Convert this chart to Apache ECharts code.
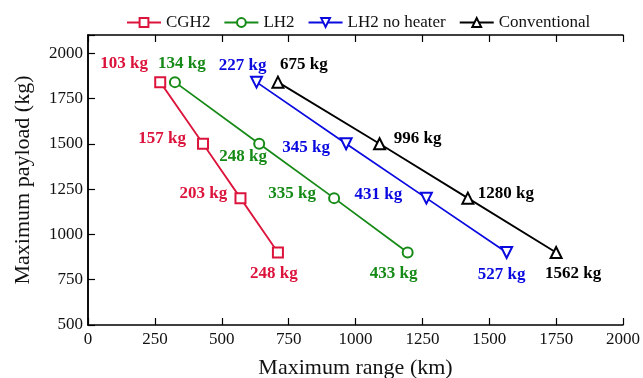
<!DOCTYPE html>
<html>
<head>
<meta charset="utf-8">
<script src="https://cdn.jsdelivr.net/npm/echarts@6/dist/echarts.min.js"></script>
<style>
  html, body { margin: 0; padding: 0; background: #fff; }
  #chart { width: 643px; height: 378px; }
</style>
</head>
<body>
<div id="chart"></div>
<script>
// Range (km) and payload (kg) for each configuration
const cgh2Range = [270, 430, 570, 710];
const cgh2Payload = [1840, 1500, 1200, 900];
const cgh2Fuel = [103, 157, 203, 248];

const lh2Range = [325, 640, 920, 1195];
const lh2Payload = [1840, 1500, 1200, 900];
const lh2Fuel = [134, 248, 335, 433];

const lh2NoHeaterRange = [630, 965, 1265, 1565];
const lh2NoHeaterPayload = [1840, 1500, 1200, 900];
const lh2NoHeaterFuel = [227, 345, 431, 527];

const conventionalRange = [710, 1090, 1420, 1750];
const conventionalPayload = [1840, 1500, 1200, 900];
const conventionalFuel = [675, 996, 1280, 1562];

const xTicks = [0, 250, 500, 750, 1000, 1250, 1500, 1750, 2000];
const yTicks = [500, 750, 1000, 1250, 1500, 1750, 2000];

// Label placement offsets (px) around each marker
const cgh2LabelOffsets = [[-36, -19], [-41, -5], [-37, -5], [-4, 21]];
const lh2LabelOffsets = [[7, -19], [-16, 13], [-42, -5], [-14, 21]];
const lh2NoHeaterLabelOffsets = [[-14, -17], [-40, 4], [-48, -4], [-5, 22]];
const conventionalLabelOffsets = [[26, -18], [38, -5], [38, -5], [17, 21]];

const SERIF = '"Liberation Serif", "Times New Roman", serif';

function buildSeries(name, color, symbol, symbolSize, rotate, xs, ys, fuel, offsets) {
  return {
    name: name,
    type: 'line',
    color: color,
    symbol: symbol,
    symbolSize: symbolSize,
    symbolRotate: rotate,
    showAllSymbol: true,
    lineStyle: { color: color, width: 1.8 },
    itemStyle: { color: '#fff', borderColor: color, borderWidth: 2 },
    emphasis: { disabled: true },
    z: 3,
    data: xs.map((x, i) => ({
      value: [x, ys[i]],
      label: {
        show: true,
        position: 'inside',
        offset: offsets[i],
        formatter: fuel[i] + ' kg',
        color: color,
        fontFamily: SERIF,
        fontWeight: 'bold',
        fontSize: 17,
        align: 'center',
        verticalAlign: 'middle'
      }
    }))
  };
}

const chart = echarts.init(document.getElementById('chart'), null, { renderer: 'canvas' });

const axisLine = { show: true, lineStyle: { color: '#000', width: 1.5 } };
const tickStyle = { show: true, inside: true, length: 7, lineStyle: { color: '#000', width: 1.2 } };
const labelStyle = { color: '#111', fontFamily: SERIF, fontSize: 17 };

chart.setOption({
  animation: false,
  backgroundColor: '#fff',
  legend: {
    top: 9,
    left: 121,
    itemWidth: 34,
    itemHeight: 11,
    itemGap: 13,
    textStyle: { color: '#111', fontFamily: SERIF, fontSize: 17 },
    data: ['CGH2', 'LH2', 'LH2 no heater', 'Conventional']
  },
  grid: { left: 88, right: 20, top: 35, bottom: 53, outerBoundsMode: 'none', containLabel: false },
  xAxis: [{
    type: 'value',
    min: 0, max: 2000, interval: 250,
    name: 'Maximum range (km)',
    nameLocation: 'middle',
    nameGap: 32,
    nameTextStyle: { color: '#111', fontFamily: SERIF, fontSize: 22 },
    axisLine: axisLine,
    axisTick: tickStyle,
    axisLabel: Object.assign({
      margin: 6,
      formatter: v => (xTicks.indexOf(v) >= 0 ? String(v) : '')
    }, labelStyle),
    splitLine: { show: false }
  }, {
    type: 'value',
    position: 'top',
    min: 0, max: 2000, interval: 250,
    axisLine: axisLine,
    axisTick: tickStyle,
    axisLabel: { show: false },
    splitLine: { show: false }
  }],
  yAxis: [{
    type: 'value',
    min: 500, max: 2100, interval: 250,
    name: 'Maximum payload (kg)',
    nameLocation: 'middle',
    nameGap: 54,
    nameTextStyle: { color: '#111', fontFamily: SERIF, fontSize: 22 },
    axisLine: axisLine,
    axisTick: tickStyle,
    axisLabel: Object.assign({
      margin: 5,
      formatter: v => (yTicks.indexOf(v) >= 0 ? String(v) : '')
    }, labelStyle),
    splitLine: { show: false }
  }, {
    type: 'value',
    position: 'right',
    min: 500, max: 2100, interval: 250,
    axisLine: axisLine,
    axisTick: { show: false },
    axisLabel: { show: false },
    splitLine: { show: false }
  }],
  series: [
    buildSeries('CGH2', '#dc143c', 'rect', 10, 0, cgh2Range, cgh2Payload, cgh2Fuel, cgh2LabelOffsets),
    buildSeries('LH2', '#168a16', 'circle', 10, 0, lh2Range, lh2Payload, lh2Fuel, lh2LabelOffsets),
    buildSeries('LH2 no heater', '#0a0ae0', 'triangle', 11, 180, lh2NoHeaterRange, lh2NoHeaterPayload, lh2NoHeaterFuel, lh2NoHeaterLabelOffsets),
    buildSeries('Conventional', '#000000', 'triangle', 11, 0, conventionalRange, conventionalPayload, conventionalFuel, conventionalLabelOffsets)
  ]
});
</script>
</body>
</html>
